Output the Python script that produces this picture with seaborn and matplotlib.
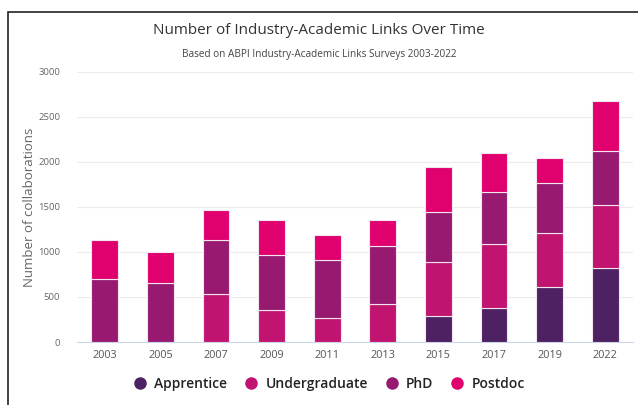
import numpy as np
import pandas as pd
import seaborn as sns
import matplotlib.pyplot as plt
from matplotlib.patches import Rectangle
from matplotlib.lines import Line2D

years = ["2003", "2005", "2007", "2009", "2011", "2013", "2015", "2017", "2019", "2022"]
apprentice = [0, 0, 0, 0, 0, 0, 285, 380, 615, 825]
undergraduate = [0, 0, 530, 360, 270, 425, 600, 710, 600, 700]
phd = [700, 660, 600, 605, 645, 645, 555, 570, 550, 595]
postdoc = [430, 340, 330, 385, 275, 280, 500, 440, 275, 560]

series_names = ["Apprentice", "Undergraduate", "PhD", "Postdoc"]
colors = ["#4e2163", "#c11470", "#971a70", "#e1016e"]

sns.set_theme(style="white")
plt.rcParams['font.family'] = ['Open Sans', 'DejaVu Sans']

fig = plt.figure(figsize=(6.38, 4.05), dpi=100)
ax = fig.add_axes([77 / 638, 1 - 342 / 405, (633 - 77) / 638, (342 - 71.7) / 405])

df = pd.DataFrame({"year": years, "Apprentice": apprentice, "Undergraduate": undergraduate,
                   "PhD": phd, "Postdoc": postdoc})

bottom = np.zeros(len(years))
for name, col in zip(series_names, colors):
    vals = df[name].values
    sns.barplot(x=df["year"], y=vals, bottom=bottom, color=col, width=0.48,
                edgecolor="#f2e6ee", linewidth=0.8, saturation=1, ax=ax, zorder=3)
    bottom = bottom + vals

ax.set_ylim(0, 3000)
ax.set_yticks(range(0, 3001, 500))
ax.yaxis.grid(True, color="#ececf0", linewidth=0.8, zorder=0)
ax.set_axisbelow(True)
for s in ["top", "right", "left"]:
    ax.spines[s].set_visible(False)
ax.spines["bottom"].set_color("#ccd6eb")
ax.spines["bottom"].set_linewidth(0.8)
ax.tick_params(axis="y", labelsize=6.8, labelcolor="#666666", length=0, pad=12)
ax.tick_params(axis="x", labelsize=7.8, labelcolor="#555555", length=0, pad=6)
ax.set_xlabel("")
ax.set_ylabel("Number of collaborations", fontsize=9.5, color="#666666")
ax.yaxis.set_label_coords(-0.074, 0.5)

fig.text(0.5, 1 - 30 / 405, "Number of Industry-Academic Links Over Time",
         ha="center", va="center", fontsize=11, color="#333333")
fig.text(0.5, 1 - 55 / 405, "Based on ABPI Industry-Academic Links Surveys 2003-2022",
         ha="center", va="center", fontsize=7.2, color="#444444")

handles = [Line2D([0], [0], marker="o", linestyle="", markersize=8,
                  markerfacecolor=c, markeredgecolor=c) for c in colors]
fig.legend(handles, series_names, loc="center", bbox_to_anchor=(0.51, 1 - 384 / 405),
           ncol=4, frameon=False, handletextpad=0.05, columnspacing=0.7,
           labelcolor="#222222", prop={"size": 10, "weight": "semibold"})

fig.add_artist(Rectangle((8 / 638, -0.05), 1.1, 1 - 12 / 405 + 0.05, transform=fig.transFigure,
                         fill=False, edgecolor="#222222", linewidth=1.2))

fig.savefig("out.png", dpi=100)
